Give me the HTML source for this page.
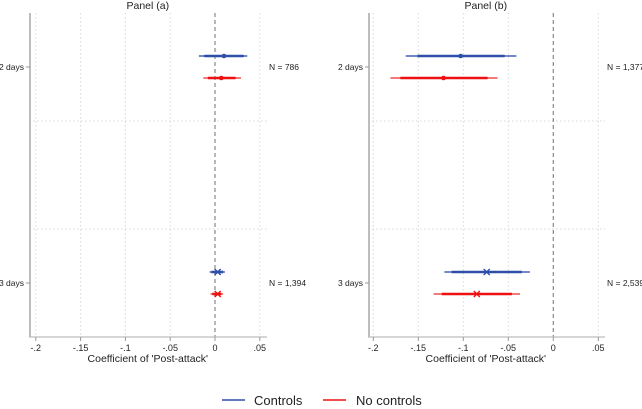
<!DOCTYPE html>
<html><head><meta charset="utf-8"><style>
body{margin:0;background:#fff;}
svg{display:block;font-family:"Liberation Sans",Arial,sans-serif;}
</style></head><body>
<svg id="chart" width="642" height="409" viewBox="0 0 642 409" xmlns="http://www.w3.org/2000/svg"></svg>
<script>
const categories = ["2 days", "3 days"];
const ticks = [-0.2, -0.15, -0.1, -0.05, 0, 0.05];
const tickLabels = ["-.2", "-.15", "-.1", "-.05", "0", ".05"];
const panelTitles = ["Panel (a)", "Panel (b)"];
const nLabelsA = ["N = 786", "N = 1,394"];
const nLabelsB = ["N = 1,377", "N = 2,539"];
// panel a: [point, thinLo, thinHi, thickLo, thickHi] per category
const aControls = [[0.010, -0.018, 0.036, -0.012, 0.032], [0.003, -0.006, 0.011, -0.004, 0.009]];
const aNoControls = [[0.007, -0.013, 0.029, -0.008, 0.023], [0.003, -0.005, 0.009, -0.003, 0.007]];
const bControls = [[-0.103, -0.164, -0.041, -0.151, -0.054], [-0.074, -0.121, -0.026, -0.113, -0.035]];
const bNoControls = [[-0.122, -0.181, -0.062, -0.170, -0.073], [-0.085, -0.133, -0.037, -0.124, -0.046]];

const svg = document.getElementById('chart');
const NS = "http://www.w3.org/2000/svg";
function mk(tag, attrs, parent){const e=document.createElementNS(NS,tag);for(const k in attrs)e.setAttribute(k,attrs[k]);(parent||svg).appendChild(e);return e;}
const BLUE="#2e4fa8", RED="#ee1111", BLUE_L="#7388c6", RED_L="#f47a7a";

function panel(p){
  const g=mk('g',{});
  
  
  const x=v=>p.x0+v*p.scale;
  const y=i=>67+i*216;
  const top=13,bot=337;
  ticks.forEach((t,i)=>{
    if(t===0)return;
    const l=mk('line',{x1:x(t),x2:x(t),y1:top,y2:bot,stroke:"#d8d8d8","stroke-width":1,"stroke-dasharray":"1.5,2.5"},g);
    
    
  });
  [0.5,1.5].forEach(k=>{
    const l=mk('line',{x1:p.axisX+3,x2:p.right,y1:67+k*108,y2:67+k*108,stroke:"#d8d8d8","stroke-width":1,"stroke-dasharray":"1.5,2.5"},g);
    
    
  });
  const z=mk('line',{x1:x(0),x2:x(0),y1:top,y2:bot,stroke:"#888","stroke-width":1.2,"stroke-dasharray":"4,3"},g);
  
  
  const ya=mk('line',{x1:p.axisX,x2:p.axisX,y1:top,y2:bot,stroke:"#bdbdbd","stroke-width":2},g);
  
  
  const xa=mk('line',{x1:p.axisX-1,x2:p.right,y1:bot,y2:bot,stroke:"#bdbdbd","stroke-width":1.2},g);
  
  
  ticks.forEach((t,i)=>{
    mk('line',{x1:x(t),x2:x(t),y1:bot,y2:bot+4,stroke:"#999","stroke-width":1},g);
    const tx=mk('text',{x:x(t),y:bot+14,"font-size":9,"text-anchor":"middle",fill:"#222"},g);
    tx.textContent=tickLabels[i];
    
    
  });
  const xt=mk('text',{x:(x(-0.2)+x(0.05))/2,y:362,"font-size":10.5,"text-anchor":"middle",fill:"#222"},g);
  xt.textContent="Coefficient of 'Post-attack'";
  
  
  const tt=mk('text',{x:(x(-0.2)+x(0.05))/2,y:9,"font-size":10.5,"text-anchor":"middle",fill:"#222"},g);
  tt.textContent=p.title;
  
  
  categories.forEach((c,i)=>{
    mk('line',{x1:p.axisX-4,x2:p.axisX,y1:y(i),y2:y(i),stroke:"#999","stroke-width":1},g);
    const l=mk('text',{x:p.axisX-6,y:y(i)+3,"font-size":8.5,"text-anchor":"end",fill:"#222"},g);
    l.textContent=c;
    
    
    const n=mk('text',{x:p.nx,y:y(i)+3,"font-size":8.5,fill:"#222"},g);
    n.textContent=p.nLabels[i];
    
    
  });
  [[p.ctrl,BLUE,BLUE_L,-11,'controls'],[p.noctrl,RED,RED_L,11,'no-controls']].forEach(([arr,col,lcol,off,nm])=>{
    arr.forEach((d,i)=>{
      const yy=y(i)+off;
      const thin=mk('line',{x1:x(d[1]),x2:x(d[2]),y1:yy,y2:yy,stroke:lcol,"stroke-width":2},g);
      
      
      const thick=mk('line',{x1:x(d[3]),x2:x(d[4]),y1:yy,y2:yy,stroke:col,"stroke-width":2.6},g);
      
      
      let m;
      if(i===0){
        m=mk('circle',{cx:x(d[0]),cy:yy,r:2.3,fill:col},g);
      } else {
        const cx=x(d[0]);
        m=mk('path',{d:`M${cx-3},${yy-3}L${cx+3},${yy+3}M${cx-3},${yy+3}L${cx+3},${yy-3}`,stroke:col,"stroke-width":1.4,fill:"none"},g);
      }
      
      
    });
  });
}
panel({name:'panel-a',title:panelTitles[0],x0:215,scale:896,axisX:30,right:267,nx:269,nLabels:nLabelsA,ctrl:aControls,noctrl:aNoControls});
panel({name:'panel-b',title:panelTitles[1],x0:553.3,scale:900,axisX:369,right:605,nx:607,nLabels:nLabelsB,ctrl:bControls,noctrl:bNoControls});

const lg=mk('g',{});


[[222,BLUE,"Controls",254],[323,RED,"No controls",356]].forEach(([lx,col,txt,tx])=>{
  const l=mk('line',{x1:lx,x2:lx+23,y1:400,y2:400,stroke:col,"stroke-width":1.5},lg);
  
  
  const t=mk('text',{x:tx,y:405,"font-size":13,fill:"#222"},lg);
  t.textContent=txt;
  
  
});
</script>
</body></html>
